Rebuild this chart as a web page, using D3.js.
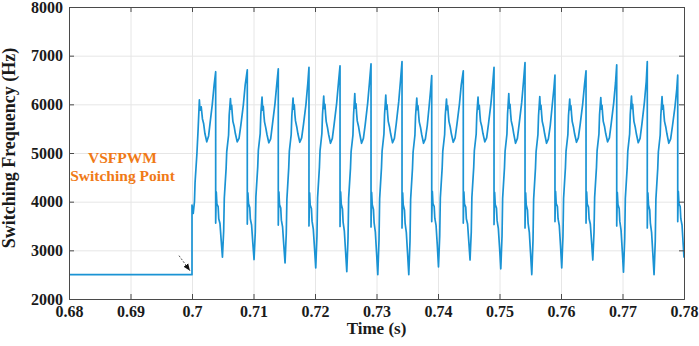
<!DOCTYPE html>
<html>
<head>
<meta charset="utf-8">
<title>Switching Frequency</title>
<script src="https://cdnjs.cloudflare.com/ajax/libs/d3/7.8.5/d3.min.js"></script>
<style>
  body { margin: 0; background: #fff; }
  svg text { font-family: "Liberation Serif", "Times New Roman", serif; font-weight: bold; }
</style>
</head>
<body>
<script>
// tick values
var xTicks = [0.68, 0.69, 0.7, 0.71, 0.72, 0.73, 0.74, 0.75, 0.76, 0.77, 0.78];
var yTicks = [2000, 3000, 4000, 5000, 6000, 7000, 8000];

// time (s), one row per switching cycle
var timeS = [
  0.68, 0.7, 0.7, 0.7002, 0.7004, 0.7005, 0.7008, 0.7010, 0.7012, 0.7013, 0.7015, 0.7017, 0.7019, 0.7021, 0.7024, 0.7027, 0.7030, 0.7033, 0.7036,
  0.70385, 0.70385, 0.70395, 0.70405, 0.70425, 0.70435, 0.70455, 0.70475, 0.70495, 0.70515, 0.70525, 0.70555, 0.70565, 0.70595, 0.70605, 0.70625, 0.70635, 0.70645, 0.70655, 0.70665, 0.70685, 0.70705, 0.70735, 0.70765, 0.70795, 0.70835, 0.70865,
  0.70899, 0.70899, 0.70909, 0.70919, 0.70939, 0.70949, 0.70969, 0.70989, 0.71009, 0.71029, 0.71039, 0.71069, 0.71079, 0.71109, 0.71119, 0.71139, 0.71149, 0.71159, 0.71169, 0.71179, 0.71199, 0.71219, 0.71249, 0.71279, 0.71309, 0.71349, 0.71379,
  0.71403, 0.71403, 0.71413, 0.71423, 0.71443, 0.71453, 0.71473, 0.71493, 0.71513, 0.71533, 0.71543, 0.71573, 0.71583, 0.71613, 0.71623, 0.71643, 0.71653, 0.71663, 0.71673, 0.71683, 0.71703, 0.71723, 0.71753, 0.71783, 0.71813, 0.71853, 0.71883,
  0.71902, 0.71902, 0.71912, 0.71922, 0.71942, 0.71952, 0.71972, 0.71992, 0.72012, 0.72032, 0.72042, 0.72072, 0.72082, 0.72112, 0.72122, 0.72142, 0.72152, 0.72162, 0.72172, 0.72182, 0.72202, 0.72222, 0.72252, 0.72282, 0.72312, 0.72352, 0.72382,
  0.72407, 0.72407, 0.72417, 0.72427, 0.72447, 0.72457, 0.72477, 0.72497, 0.72517, 0.72537, 0.72547, 0.72577, 0.72587, 0.72617, 0.72627, 0.72647, 0.72657, 0.72667, 0.72677, 0.72687, 0.72707, 0.72727, 0.72757, 0.72787, 0.72817, 0.72857, 0.72887,
  0.72911, 0.72911, 0.72921, 0.72931, 0.72951, 0.72961, 0.72981, 0.73001, 0.73021, 0.73041, 0.73051, 0.73081, 0.73091, 0.73121, 0.73131, 0.73151, 0.73161, 0.73171, 0.73181, 0.73191, 0.73211, 0.73231, 0.73261, 0.73291, 0.73321, 0.73361, 0.73391,
  0.73415, 0.73415, 0.73425, 0.73435, 0.73455, 0.73465, 0.73485, 0.73505, 0.73525, 0.73545, 0.73555, 0.73585, 0.73595, 0.73625, 0.73635, 0.73655, 0.73665, 0.73675, 0.73685, 0.73695, 0.73715, 0.73735, 0.73765, 0.73795, 0.73825, 0.73855, 0.73880,
  0.73898, 0.73898, 0.73908, 0.73918, 0.73938, 0.73948, 0.73968, 0.73988, 0.74008, 0.74028, 0.74038, 0.74068, 0.74078, 0.74108, 0.74118, 0.74138, 0.74148, 0.74158, 0.74168, 0.74178, 0.74198, 0.74218, 0.74248, 0.74278, 0.74308, 0.74348, 0.74378,
  0.74411, 0.74411, 0.74421, 0.74431, 0.74451, 0.74461, 0.74481, 0.74501, 0.74521, 0.74541, 0.74551, 0.74581, 0.74591, 0.74621, 0.74631, 0.74651, 0.74661, 0.74671, 0.74681, 0.74691, 0.74711, 0.74731, 0.74761, 0.74791, 0.74821, 0.74861, 0.74891,
  0.74911, 0.74911, 0.74921, 0.74931, 0.74951, 0.74961, 0.74981, 0.75001, 0.75021, 0.75041, 0.75051, 0.75081, 0.75091, 0.75121, 0.75131, 0.75151, 0.75161, 0.75171, 0.75181, 0.75191, 0.75211, 0.75231, 0.75261, 0.75291, 0.75321, 0.75361, 0.75391,
  0.75415, 0.75415, 0.75425, 0.75435, 0.75455, 0.75465, 0.75485, 0.75505, 0.75525, 0.75545, 0.75555, 0.75585, 0.75595, 0.75625, 0.75635, 0.75655, 0.75665, 0.75675, 0.75685, 0.75695, 0.75715, 0.75735, 0.75765, 0.75795, 0.75825, 0.75855, 0.75885,
  0.75902, 0.75902, 0.75912, 0.75922, 0.75942, 0.75952, 0.75972, 0.75992, 0.76012, 0.76032, 0.76042, 0.76072, 0.76082, 0.76112, 0.76122, 0.76142, 0.76152, 0.76162, 0.76172, 0.76182, 0.76202, 0.76222, 0.76252, 0.76282, 0.76312, 0.76352, 0.76382,
  0.76407, 0.76407, 0.76417, 0.76427, 0.76447, 0.76457, 0.76477, 0.76497, 0.76517, 0.76537, 0.76547, 0.76577, 0.76587, 0.76617, 0.76627, 0.76647, 0.76657, 0.76667, 0.76677, 0.76687, 0.76707, 0.76727, 0.76757, 0.76787, 0.76817, 0.76857, 0.76887,
  0.76906, 0.76906, 0.76916, 0.76926, 0.76946, 0.76956, 0.76976, 0.76996, 0.77016, 0.77036, 0.77046, 0.77076, 0.77086, 0.77116, 0.77126, 0.77146, 0.77156, 0.77166, 0.77176, 0.77186, 0.77206, 0.77226, 0.77256, 0.77286, 0.77316, 0.77356, 0.77386,
  0.77403, 0.77403, 0.77413, 0.77423, 0.77443, 0.77453, 0.77473, 0.77493, 0.77513, 0.77533, 0.77543, 0.77573, 0.77583, 0.77613, 0.77623, 0.77643, 0.77653, 0.77663, 0.77673, 0.77683, 0.77703, 0.77723, 0.77753, 0.77783, 0.77813, 0.77853, 0.77883,
  0.77898, 0.77898, 0.77908, 0.77918, 0.77938, 0.77948, 0.77968, 0.77988, 0.78
];

// switching frequency (Hz), same rows as timeS
var freqHz = [
  2500, 2500, 3930, 3760, 4000, 4400, 4990, 5500, 6090, 5880, 5950, 5700, 5600, 5400, 5230, 5350, 5680, 6000, 6400,
  6670, 3560, 4200, 3950, 3900, 3650, 3550, 3200, 2860, 3400, 4070, 4690, 5030, 5370, 5780, 6120, 5900, 5980, 5800, 5650, 5550, 5400, 5230, 5300, 5580, 5990, 6400,
  6710, 3540, 4180, 3960, 3880, 3640, 3520, 3150, 2810, 3380, 4100, 4720, 5060, 5400, 5800, 6150, 5880, 5960, 5780, 5640, 5520, 5380, 5210, 5290, 5600, 6010, 6420,
  6730, 3520, 4200, 3940, 3870, 3620, 3480, 3100, 2740, 3350, 4050, 4700, 5040, 5380, 5760, 6130, 5900, 5990, 5790, 5660, 5540, 5390, 5220, 5310, 5590, 6000, 6430,
  6760, 3500, 4180, 3930, 3860, 3600, 3440, 3050, 2640, 3300, 4080, 4710, 5050, 5400, 5790, 6170, 5910, 6000, 5800, 5650, 5530, 5380, 5200, 5300, 5600, 6020, 6450,
  6790, 3490, 4200, 3950, 3850, 3580, 3400, 2980, 2560, 3250, 4070, 4690, 5030, 5370, 5780, 6220, 5920, 6010, 5810, 5660, 5550, 5400, 5200, 5300, 5590, 6030, 6470,
  6830, 3480, 4190, 3940, 3840, 3570, 3380, 2950, 2500, 3220, 4060, 4700, 5040, 5390, 5790, 6190, 5900, 5990, 5800, 5650, 5540, 5390, 5210, 5300, 5600, 6050, 6500,
  6880, 3460, 4180, 3930, 3830, 3560, 3370, 2940, 2500, 3200, 4050, 4680, 5020, 5370, 5760, 6130, 5890, 5970, 5790, 5640, 5530, 5380, 5200, 5290, 5560, 5950, 6300,
  6590, 3590, 4210, 3960, 3900, 3660, 3520, 3120, 2660, 3300, 4080, 4700, 5040, 5380, 5770, 6110, 5890, 5970, 5790, 5650, 5540, 5390, 5220, 5310, 5590, 6000, 6400,
  6690, 3560, 4200, 3950, 3890, 3650, 3540, 3180, 2800, 3380, 4090, 4710, 5050, 5390, 5790, 6150, 5900, 5980, 5800, 5650, 5550, 5400, 5230, 5310, 5600, 6020, 6440,
  6760, 3530, 4190, 3940, 3870, 3610, 3450, 3060, 2620, 3290, 4070, 4700, 5040, 5390, 5800, 6220, 5920, 6000, 5810, 5660, 5550, 5400, 5200, 5300, 5610, 6040, 6480,
  6860, 3460, 4180, 3930, 3830, 3560, 3370, 2940, 2500, 3210, 4050, 4690, 5030, 5380, 5770, 6160, 5900, 5980, 5800, 5650, 5540, 5390, 5200, 5290, 5560, 5950, 6330,
  6600, 3590, 4210, 3960, 3900, 3650, 3510, 3100, 2640, 3290, 4070, 4700, 5040, 5380, 5770, 6110, 5890, 5970, 5790, 5650, 5540, 5390, 5220, 5310, 5590, 6000, 6400,
  6690, 3560, 4200, 3950, 3890, 3650, 3540, 3180, 2800, 3380, 4090, 4710, 5050, 5390, 5790, 6140, 5900, 5980, 5800, 5650, 5550, 5400, 5230, 5310, 5610, 6030, 6450,
  6810, 3500, 4190, 3940, 3860, 3600, 3420, 3000, 2550, 3250, 4070, 4700, 5040, 5390, 5790, 6170, 5910, 6000, 5800, 5650, 5540, 5390, 5210, 5300, 5600, 6040, 6470,
  6880, 3460, 4180, 3930, 3830, 3560, 3370, 2940, 2500, 3200, 4050, 4680, 5020, 5370, 5770, 6160, 5900, 5980, 5800, 5650, 5540, 5390, 5200, 5290, 5560, 5950, 6320,
  6600, 3590, 4210, 3960, 3900, 3650, 3520, 3100, 2850
];

// annotation
var noteLines = ["VSFPWM", "Switching Point"];
var noteAt = [0.7, 2500];

var width = 699, height = 346,
    margin = {top: 7, right: 15, bottom: 47, left: 69},
    plotW = width - margin.left - margin.right,
    plotH = height - margin.top - margin.bottom;

var svg = d3.select("body").append("svg")
    .attr("width", width)
    .attr("height", height);

var x = d3.scaleLinear().domain([0.68, 0.78]).range([0, plotW]);
var y = d3.scaleLinear().domain([2000, 8000]).range([plotH, 0]);

var g = svg.append("g")
    .attr("transform", "translate(" + margin.left + "," + margin.top + ")");

// grid
g.append("g")
    .attr("class", "grid")
    .attr("transform", "translate(0," + plotH + ")")
    .call(d3.axisBottom(x).tickValues(xTicks).tickSize(-plotH).tickFormat(""));
g.append("g")
    .attr("class", "grid")
    .call(d3.axisLeft(y).tickValues(yTicks).tickSize(-plotW).tickFormat(""));
g.selectAll(".grid line").attr("stroke", "#e6e6e6").attr("stroke-width", 1);
g.selectAll(".grid .domain").remove();

// the curve
g.append("clipPath").attr("id", "clip")
  .append("rect").attr("x", -1).attr("y", -1).attr("width", plotW + 2).attr("height", plotH + 2);

var line = d3.line()
    .x(function(i) { return x(timeS[i]); })
    .y(function(i) { return y(freqHz[i]); });

g.append("path")
    .datum(d3.range(timeS.length))
    .attr("clip-path", "url(#clip)")
    .attr("fill", "none")
    .attr("stroke", "#1a93d4")
    .attr("stroke-width", 1.7)
    .attr("stroke-linejoin", "round")
    .attr("d", line);

// axes, ticks pointing inward like MATLAB
var axisColor = "#4a4a4a";
var xAxis = g.append("g")
    .attr("transform", "translate(0," + plotH + ")")
    .call(d3.axisBottom(x).tickValues(xTicks).tickSize(-5).tickPadding(7)
        .tickFormat(function(d) { return String(d); }));
var yAxis = g.append("g")
    .call(d3.axisLeft(y).tickValues(yTicks).tickSize(-5).tickPadding(6)
        .tickFormat(d3.format("d")));
var topAxis = g.append("g")
    .call(d3.axisTop(x).tickValues(xTicks).tickSize(-5).tickFormat(""));
var rightAxis = g.append("g")
    .attr("transform", "translate(" + plotW + ",0)")
    .call(d3.axisRight(y).tickValues(yTicks).tickSize(-5).tickFormat(""));

[xAxis, yAxis, topAxis, rightAxis].forEach(function(a) {
    a.select(".domain").attr("stroke", axisColor);
    a.selectAll(".tick line").attr("stroke", axisColor);
    a.selectAll("text")
        .attr("fill", "#1a1a1a")
        .style("font-size", "16px")
        .style("font-family", "'Liberation Serif', 'Times New Roman', serif")
        .style("font-weight", "bold");
});

// axis titles
svg.append("text")
    .attr("x", margin.left + plotW / 2)
    .attr("y", 334)
    .attr("text-anchor", "middle")
    .attr("fill", "#1a1a1a")
    .style("font-size", "17px")
    .text("Time (s)");

svg.append("text")
    .attr("transform", "translate(15," + (margin.top + plotH / 2 - 5) + ") rotate(-90)")
    .attr("text-anchor", "middle")
    .attr("fill", "#1a1a1a")
    .style("font-size", "18px")
    .text("Switching Frequency (Hz)");

// annotation text and arrow
var note = g.append("text")
    .attr("text-anchor", "middle")
    .attr("fill", "#f07a17")
    .style("font-size", "15.5px");
note.selectAll("tspan")
    .data(noteLines)
  .enter().append("tspan")
    .attr("x", x(0.6887))
    .attr("y", function(d, i) { return y(4800) + i * 18.5; })
    .text(function(d) { return d; });

svg.append("defs").append("marker")
    .attr("id", "head")
    .attr("viewBox", "0 0 10 10")
    .attr("refX", 10).attr("refY", 5)
    .attr("markerWidth", 7).attr("markerHeight", 7)
    .attr("orient", "auto")
  .append("path")
    .attr("d", "M0,1 L10,5 L0,9 Z")
    .attr("fill", "#111");

g.append("line")
    .attr("x1", x(noteAt[0]) - 13).attr("y1", y(noteAt[1]) - 19)
    .attr("x2", x(noteAt[0]) - 2).attr("y2", y(noteAt[1]) - 4)
    .attr("stroke", "#555")
    .attr("stroke-width", 1)
    .attr("stroke-dasharray", "2,1.5")
    .attr("marker-end", "url(#head)");
</script>
</body>
</html>
